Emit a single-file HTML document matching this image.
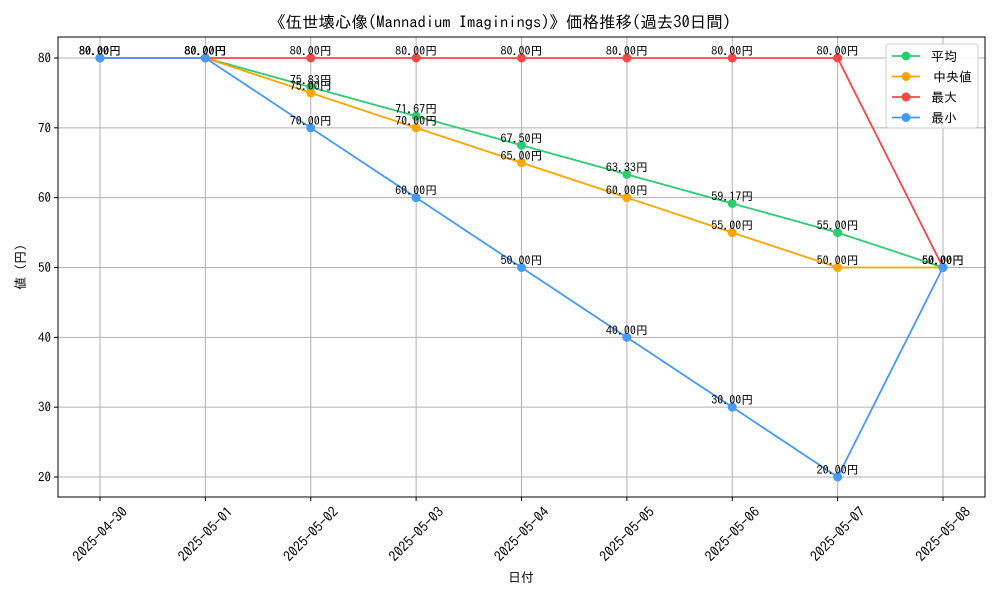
<!DOCTYPE html>
<html><head><meta charset="utf-8"><style>
body{margin:0;background:#fff}
svg text{font-family:"IPAGothic","Noto Sans CJK JP",sans-serif}
</style></head><body>
<svg id="c" width="1000" height="600" xmlns="http://www.w3.org/2000/svg"></svg>
<script>
const categories=["2025-04-30","2025-05-01","2025-05-02","2025-05-03","2025-05-04","2025-05-05","2025-05-06","2025-05-07","2025-05-08"];
const avgValues=[80,80,75.83,71.67,67.5,63.33,59.17,55,50];
const medianValues=[80,80,75,70,65,60,55,50,50];
const maxValues=[80,80,80,80,80,80,80,80,50];
const minValues=[80,80,70,60,50,40,30,20,50];
const yTicks=[20,30,40,50,60,70,80];
const seriesNames=["平均","中央値","最大","最小"];
const colors=["#2ecc71","#ffa500","#ff4444","#4499ff"];
const svg=document.getElementById('c');
const NS="http://www.w3.org/2000/svg";
const L=58,R=985,T=37,B=497;
const x=i=>100+i*(943-100)/(categories.length-1);
const y=v=>58+(80-v)*(477-58)/60;
function el(t,a,p){const e=document.createElementNS(NS,t);for(const k in a)e.setAttribute(k,a[k]);(p||svg).appendChild(e);return e;}
yTicks.forEach(v=>{
 const g=el('line',{x1:L,x2:R,y1:y(v),y2:y(v),stroke:'#b0b0b0','stroke-width':1});
 
 el('line',{x1:L-4,x2:L,y1:y(v),y2:y(v),stroke:'#000'});
 const t=el('text',{x:L-7,y:y(v)+4.5,'text-anchor':'end','font-size':13});t.textContent=v;
 
});
categories.forEach((c,i)=>{
 const g=el('line',{x1:x(i),x2:x(i),y1:T,y2:B,stroke:'#b0b0b0','stroke-width':1});
 
 el('line',{x1:x(i),x2:x(i),y1:B,y2:B+4,stroke:'#000'});
 const cy=B+37;
 const t=el('text',{x:x(i),y:cy+5,'text-anchor':'middle','font-size':14,transform:`rotate(-45 ${x(i)} ${cy})`});t.textContent=c;
 
});
const frame=el('rect',{x:L,y:T,width:R-L,height:B-T,fill:'none',stroke:'#000'});

const all=[avgValues,medianValues,maxValues,minValues];
all.forEach((vals,s)=>{
 const p=el('polyline',{points:vals.map((v,i)=>x(i)+','+y(v)).join(' '),fill:'none',stroke:colors[s],'stroke-width':1.8});
 
 vals.forEach((v,i)=>{
  const d=el('circle',{cx:x(i),cy:y(v),r:4.5,fill:colors[s]});
  
 });
});
all.forEach((vals,s)=>{vals.forEach((v,i)=>{
 const t=el('text',{x:x(i),y:y(v)-3,'text-anchor':'middle','font-size':12,fill:'#000'});t.textContent=v.toFixed(2)+'円';
 
});});
const title=el('text',{x:500,y:28,'text-anchor':'middle','font-size':16.5});title.textContent='《伍世壊心像(Mannadium Imaginings)》価格推移(過去30日間)';

const xt=el('text',{x:521,y:582,'text-anchor':'middle','font-size':13});xt.textContent='日付';

const yt=el('text',{x:25,y:267,'text-anchor':'middle','font-size':13,transform:'rotate(-90 25 267)'});yt.textContent='値 (円)';

const lg=el('rect',{x:886,y:44,width:92,height:84,rx:3,fill:'#fff','fill-opacity':0.85,stroke:'#ccc'});

seriesNames.forEach((n,s)=>{
 const yy=56+s*20.5;
 el('line',{x1:892,x2:920,y1:yy,y2:yy,stroke:colors[s],'stroke-width':1.8});
 el('circle',{cx:906,cy:yy,r:4.5,fill:colors[s]});
 const t=el('text',{x:s==1?933:931,y:yy+5,'font-size':13});t.textContent=n;
 
});
</script>
</body></html>
